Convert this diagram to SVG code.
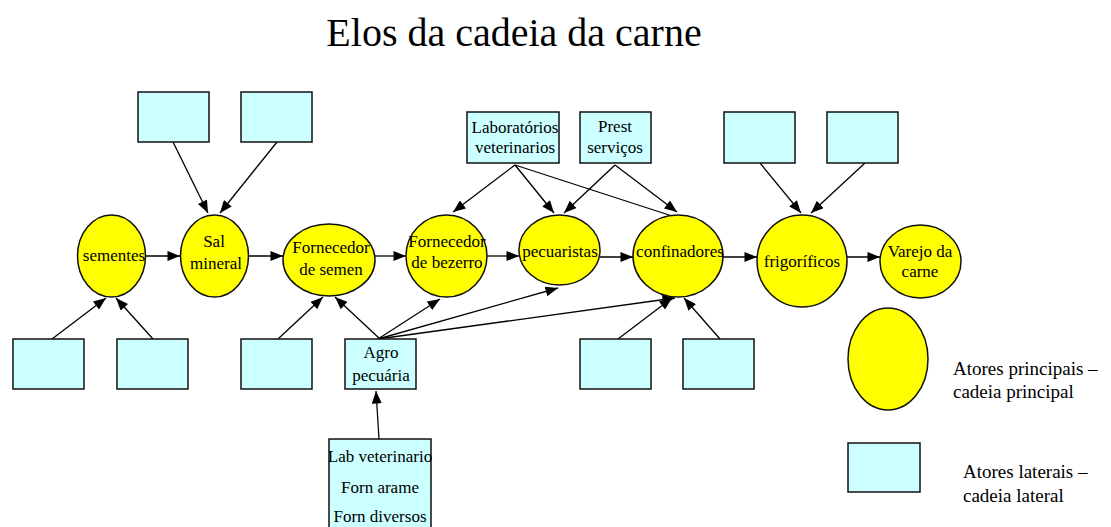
<svg xmlns="http://www.w3.org/2000/svg" width="1111" height="527" viewBox="0 0 1111 527">
<style>
.main{fill:#ffff00;stroke:#111;stroke-width:1.5}
.lat{fill:#ccffff;stroke:#111;stroke-width:1.5}
.t{font-family:'Liberation Serif','DejaVu Serif',serif;font-size:17px;fill:#000;text-anchor:middle}
.lg{font-family:'Liberation Serif','DejaVu Serif',serif;font-size:19px;fill:#000}
.ttl{font-family:'Liberation Serif','DejaVu Serif',serif;font-size:40px;fill:#000;text-anchor:middle}
.c{stroke:#000;stroke-width:1.3;fill:none;marker-end:url(#ah)}
</style>
<defs>
<marker id="ah" viewBox="0 0 10 8" refX="10" refY="4" markerWidth="13" markerHeight="10" markerUnits="userSpaceOnUse" orient="auto">
<path d="M0,0 L10,4 L0,8 z" fill="#000"/>
</marker>
</defs>
<rect width="1111" height="527" fill="#fff"/>
<text class="ttl" x="514" y="46">Elos da cadeia da carne</text>

<g id="connectors">
<line class="c" x1="146" y1="256" x2="180" y2="256"/>
<line class="c" x1="249" y1="256" x2="283" y2="256"/>
<line class="c" x1="375" y1="256" x2="406" y2="256"/>
<line class="c" x1="487" y1="256" x2="519" y2="256"/>
<line class="c" x1="600" y1="257" x2="633" y2="257"/>
<line class="c" x1="723" y1="257" x2="757" y2="257"/>
<line class="c" x1="847" y1="257" x2="880" y2="257"/>
<line class="c" x1="173" y1="142" x2="208" y2="213"/>
<line class="c" x1="277" y1="142" x2="220" y2="213"/>
<line class="c" x1="52" y1="339" x2="106" y2="298"/>
<line class="c" x1="153" y1="339" x2="116" y2="298"/>
<line class="c" x1="278" y1="339" x2="323" y2="297"/>
<line class="c" x1="380" y1="339" x2="335" y2="297"/>
<line class="c" x1="515" y1="165" x2="453" y2="212"/>
<line class="c" x1="515" y1="165" x2="554" y2="213"/>
<line class="c" x1="515" y1="165" x2="709" y2="228"/>
<line class="c" x1="615" y1="165" x2="564" y2="213"/>
<line class="c" x1="615" y1="165" x2="677" y2="212"/>
<line class="c" x1="378" y1="339" x2="440" y2="299"/>
<line class="c" x1="378" y1="339" x2="558" y2="288"/>
<line class="c" x1="378" y1="339" x2="675" y2="298"/>
<line class="c" x1="618" y1="339" x2="672" y2="298"/>
<line class="c" x1="720" y1="339" x2="684" y2="298"/>
<line class="c" x1="760" y1="163" x2="801" y2="213"/>
<line class="c" x1="865" y1="163" x2="811" y2="213"/>
<line class="c" x1="379" y1="439" x2="376" y2="391"/>
</g>

<g id="n-sementes"><ellipse class="main" cx="111.5" cy="256" rx="34" ry="41"/><text class="t" x="114" y="261">sementes</text></g>
<g id="n-sal"><ellipse class="main" cx="214.5" cy="256" rx="34" ry="41"/><text class="t" x="214" y="247">Sal</text><text class="t" x="216" y="269">mineral</text></g>
<g id="n-semen"><ellipse class="main" cx="329" cy="260" rx="46" ry="36"/><text class="t" x="331" y="253">Fornecedor</text><text class="t" x="331" y="275">de semen</text></g>
<g id="n-bezerro"><ellipse class="main" cx="446.5" cy="256" rx="40.5" ry="41"/><text class="t" x="447" y="247">Fornecedor</text><text class="t" x="447" y="268">de bezerro</text></g>
<g id="n-pecuaristas"><ellipse class="main" cx="559.5" cy="250" rx="40.5" ry="35"/><text class="t" x="560" y="257">pecuaristas</text></g>
<g id="n-confinadores"><ellipse class="main" cx="678" cy="256" rx="45" ry="41"/><text class="t" x="680" y="257">confinadores</text></g>
<g id="n-frigorificos"><ellipse class="main" cx="802" cy="261" rx="45" ry="46"/><text class="t" x="802" y="267">frigoríficos</text></g>
<g id="n-varejo"><ellipse class="main" cx="920.5" cy="261.5" rx="40.5" ry="36.5"/><text class="t" x="920" y="257">Varejo da</text><text class="t" x="920" y="277">carne</text></g>

<g id="b-top1"><rect class="lat" x="138" y="92" width="71" height="50"/></g>
<g id="b-top2"><rect class="lat" x="241" y="92" width="71" height="50"/></g>
<g id="b-bot1"><rect class="lat" x="13" y="339" width="71" height="50"/></g>
<g id="b-bot2"><rect class="lat" x="117" y="339" width="71" height="50"/></g>
<g id="b-bot3"><rect class="lat" x="241" y="339" width="71" height="50"/></g>
<g id="b-agro"><rect class="lat" x="345" y="339" width="71" height="50"/><text class="t" x="381" y="358">Agro</text><text class="t" x="381" y="381">pecuária</text></g>
<g id="b-lab"><rect class="lat" x="467" y="112" width="92" height="51"/><text class="t" x="515" y="133">Laboratórios</text><text class="t" x="515" y="153">veterinarios</text></g>
<g id="b-prest"><rect class="lat" x="580" y="112" width="71" height="51"/><text class="t" x="615" y="132">Prest</text><text class="t" x="615" y="153">serviços</text></g>
<g id="b-top3"><rect class="lat" x="724" y="112" width="71" height="51"/></g>
<g id="b-top4"><rect class="lat" x="827" y="112" width="71" height="51"/></g>
<g id="b-bot4"><rect class="lat" x="580" y="339" width="71" height="50"/></g>
<g id="b-bot5"><rect class="lat" x="683" y="339" width="71" height="50"/></g>
<g id="b-labvet"><rect class="lat" x="329" y="439" width="102" height="100"/><text class="t" x="380" y="462">Lab veterinario</text><text class="t" x="380" y="493">Forn arame</text><text class="t" x="380" y="522">Forn diversos</text></g>

<g id="legend-main"><ellipse class="main" cx="888" cy="359" rx="40" ry="51"/><text class="lg" x="953" y="375">Atores principais –</text><text class="lg" x="953" y="398">cadeia principal</text></g>
<g id="legend-lat"><rect class="lat" x="848" y="443" width="72" height="49"/><text class="lg" x="963" y="478">Atores laterais –</text><text class="lg" x="963" y="502">cadeia lateral</text></g>
</svg>
